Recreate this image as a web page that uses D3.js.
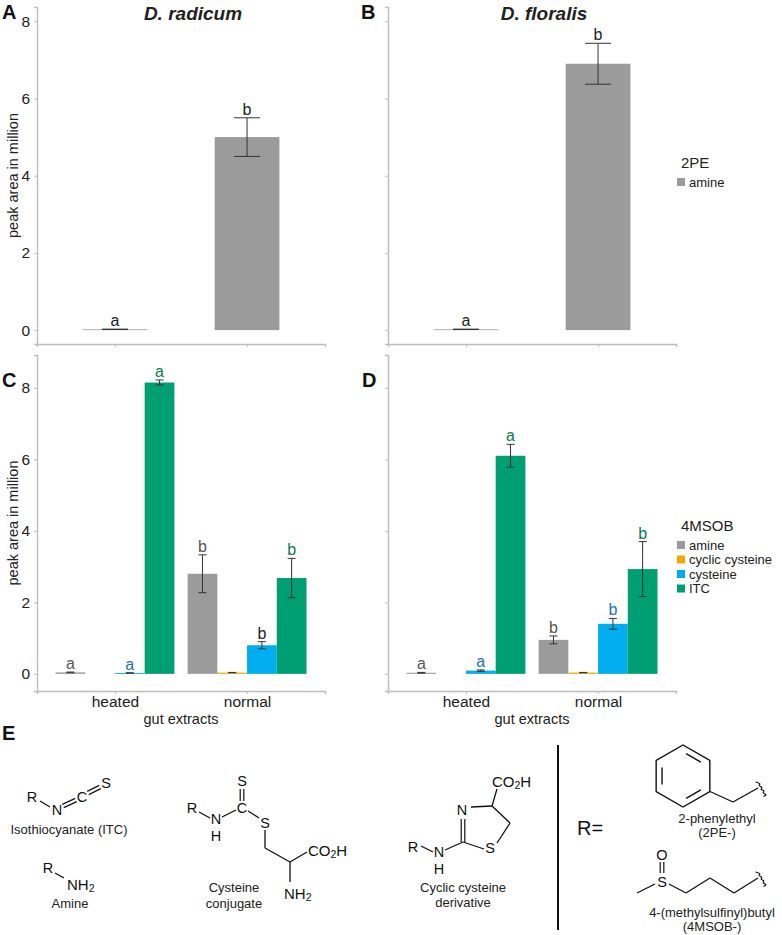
<!DOCTYPE html>
<html>
<head>
<meta charset="utf-8">
<script src="https://cdn.jsdelivr.net/npm/d3@7"></script>
<style>
  body { margin: 0; background: #fff; }
  svg { display: block; font-family: 'Liberation Sans', Arial, sans-serif; }
</style>
</head>
<body>
<svg id="chart" width="782" height="935"></svg>
<script>
// ---- data ----
const extracts = ["heated", "normal"];
const compounds = ["amine", "cyclic cysteine", "cysteine", "ITC"];
const compoundColors = ["#9b9b9b", "#f5a700", "#00aeef", "#009e73"];
const yTicks = [0, 2, 4, 6, 8];

// 2PE (panels A, B): amine only
const radicum2PEMean = [0.02, 5.0];
const radicum2PEErr = [0.005, 0.5];
const floralis2PEMean = [0.02, 6.9];
const floralis2PEErr = [0.005, 0.53];
const pe2Letters = ["a", "b"];

// 4MSOB (panels C, D): [heated, normal]
const radicumAmine = [0.04, 2.8];
const radicumAmineErr = [0.01, 0.53];
const radicumCyclic = [0, 0.035];
const radicumCyclicErr = [0, 0.005];
const radicumCysteine = [0.025, 0.8];
const radicumCysteineErr = [0.005, 0.1];
const radicumITC = [8.15, 2.68];
const radicumITCErr = [0.07, 0.55];

const floralisAmine = [0.03, 0.95];
const floralisAmineErr = [0.01, 0.11];
const floralisCyclic = [0, 0.035];
const floralisCyclicErr = [0, 0.005];
const floralisCysteine = [0.09, 1.4];
const floralisCysteineErr = [0.02, 0.15];
const floralisITC = [6.1, 2.93];
const floralisITCErr = [0.32, 0.77];

const msobLetters = [["a", "b"], [null, null], ["a", "b"], ["a", "b"]];
const radicumLetterColors = [["#555", "#555"], [null, null], ["#1f6fc0", "#222"], ["#0b7a50", "#0b7a50"]];
const floralisLetterColors = [["#555", "#555"], [null, null], ["#1f6fc0", "#1f6fc0"], ["#0b7a50", "#0b7a50"]];

const svg = d3.select("#chart");
const axisColor = "#bdbdbd";

function drawPanel(cfg) {
    const g = svg.append("g");

    const x = d3.scalePoint()
        .domain(extracts)
        .range([cfg.x0, cfg.x1])
        .padding(0.59);

    const y = d3.scaleLinear()
        .domain(cfg.yDomain)
        .range([cfg.yBottom, cfg.yTop]);

    const yAxis = g.append("g")
        .attr("transform", `translate(${cfg.x0},0)`)
        .call(d3.axisLeft(y).tickValues(yTicks).tickSize(3).tickPadding(4)
            .tickFormat(cfg.yLabels ? d3.format("d") : ""));

    const xAxis = g.append("g")
        .attr("transform", `translate(0,${cfg.yBottom})`)
        .call(d3.axisBottom(x).tickSize(3).tickPadding(2)
            .tickFormat(cfg.xLabels ? d => d : ""));

    [yAxis, xAxis].forEach(a => {
        a.select(".domain").attr("stroke", axisColor).attr("stroke-width", 1.4);
        a.selectAll(".tick line").attr("stroke", axisColor);
        a.selectAll(".tick text")
            .attr("fill", "#222")
            .style("font-size", "15.5px")
            .style("font-family", "'Liberation Sans', Arial, sans-serif");
    });

    const n = cfg.series.length;
    const bw = x.step() * cfg.groupFrac / n;
    const whisker = bw * cfg.whiskerFrac;

    cfg.series.forEach((s, i) => {
        extracts.forEach((ex, j) => {
            const cx = x(ex) - bw * n / 2 + bw * i + bw / 2;
            const v = s.mean[j];
            const e = s.err[j];
            if (v > 0) {
                g.append("rect")
                    .attr("x", cx - bw / 2)
                    .attr("width", bw)
                    .attr("y", y(v))
                    .attr("height", y(0) - y(v))
                    .attr("fill", s.color);
            }
            if (e > 0) {
                const top = y(v + e), bot = y(Math.max(v - e, 0));
                g.append("line")
                    .attr("x1", cx).attr("x2", cx)
                    .attr("y1", top).attr("y2", bot)
                    .attr("stroke", "#333").attr("stroke-width", 1);
                [top, bot].forEach(yy => {
                    g.append("line")
                        .attr("x1", cx - whisker / 2).attr("x2", cx + whisker / 2)
                        .attr("y1", yy).attr("y2", yy)
                        .attr("stroke", "#333").attr("stroke-width", 1);
                });
            }
            if (s.letters[j]) {
                g.append("text")
                    .attr("x", cx)
                    .attr("y", y(v + e) - 3)
                    .attr("text-anchor", "middle")
                    .attr("fill", s.letterColors[j])
                    .style("font-size", "16px")
                    .text(s.letters[j]);
            }
        });
    });

    if (cfg.yTitle) {
        g.append("text")
            .attr("transform", `translate(18,${(cfg.yBottom + cfg.yTop) / 2}) rotate(-90)`)
            .attr("text-anchor", "middle")
            .attr("fill", "#222")
            .style("font-size", "14.5px")
            .text("peak area in million");
    }
    if (cfg.xTitle) {
        g.append("text")
            .attr("x", (cfg.x0 + cfg.x1) / 2)
            .attr("y", cfg.yBottom + 33)
            .attr("text-anchor", "middle")
            .attr("fill", "#222")
            .style("font-size", "14.5px")
            .text("gut extracts");
    }
    if (cfg.title) {
        g.append("text")
            .attr("x", (cfg.x0 + cfg.x1) / 2 + 12)
            .attr("y", 20)
            .attr("text-anchor", "middle")
            .attr("fill", "#222")
            .style("font-size", "19px")
            .style("font-weight", "bold")
            .style("font-style", "italic")
            .text(cfg.title);
    }
    g.append("text")
        .attr("x", cfg.tagX)
        .attr("y", cfg.tagY)
        .attr("fill", "#111")
        .style("font-size", "20px")
        .style("font-weight", "bold")
        .text(cfg.tag);
}

const topDomain = [-0.36, 8.37];
const botDomain = [-0.48, 8.92];

drawPanel({
    tag: "A", tagX: 2, tagY: 19, title: "D. radicum",
    x0: 37, x1: 325, yTop: 7, yBottom: 344, yDomain: topDomain,
    yLabels: true, xLabels: false, yTitle: true, xTitle: false,
    groupFrac: 0.49, whiskerFrac: 0.4,
    series: [{ color: compoundColors[0], mean: radicum2PEMean, err: radicum2PEErr,
               letters: pe2Letters, letterColors: ["#222", "#222"] }]
});
drawPanel({
    tag: "B", tagX: 361, tagY: 19, title: "D. floralis",
    x0: 388, x1: 676, yTop: 7, yBottom: 344, yDomain: topDomain,
    yLabels: false, xLabels: false, yTitle: false, xTitle: false,
    groupFrac: 0.49, whiskerFrac: 0.4,
    series: [{ color: compoundColors[0], mean: floralis2PEMean, err: floralis2PEErr,
               letters: pe2Letters, letterColors: ["#222", "#222"] }]
});

const radicumMeans = [radicumAmine, radicumCyclic, radicumCysteine, radicumITC];
const radicumErrs = [radicumAmineErr, radicumCyclicErr, radicumCysteineErr, radicumITCErr];
const floralisMeans = [floralisAmine, floralisCyclic, floralisCysteine, floralisITC];
const floralisErrs = [floralisAmineErr, floralisCyclicErr, floralisCysteineErr, floralisITCErr];

drawPanel({
    tag: "C", tagX: 2, tagY: 387,
    x0: 37, x1: 325, yTop: 355, yBottom: 691, yDomain: botDomain,
    yLabels: true, xLabels: true, yTitle: true, xTitle: true,
    groupFrac: 0.9, whiskerFrac: 0.27,
    series: compounds.map((c, i) => ({ color: compoundColors[i], mean: radicumMeans[i], err: radicumErrs[i],
        letters: msobLetters[i], letterColors: radicumLetterColors[i] }))
});
drawPanel({
    tag: "D", tagX: 362, tagY: 387,
    x0: 388, x1: 676, yTop: 355, yBottom: 691, yDomain: botDomain,
    yLabels: false, xLabels: true, yTitle: false, xTitle: true,
    groupFrac: 0.9, whiskerFrac: 0.27,
    series: compounds.map((c, i) => ({ color: compoundColors[i], mean: floralisMeans[i], err: floralisErrs[i],
        letters: msobLetters[i], letterColors: floralisLetterColors[i] }))
});

// ---- legends ----
function legend(title, items, colors, x, y) {
    const g = svg.append("g").attr("transform", `translate(${x},${y})`);
    g.append("text").attr("x", 4).attr("y", 0).attr("fill", "#222")
        .style("font-size", "15px").text(title);
    items.forEach((it, i) => {
        g.append("rect").attr("x", 0).attr("y", 10 + i * 14.5).attr("width", 8).attr("height", 8)
            .attr("fill", colors[i]);
        g.append("text").attr("x", 12).attr("y", 18.5 + i * 14.5).attr("fill", "#222")
            .style("font-size", "13px").text(it);
    });
}
legend("2PE", ["amine"], [compoundColors[0]], 677, 168);
legend("4MSOB", compounds, compoundColors, 677, 531);

// ---- panel E: structures ----
const e = svg.append("g").attr("stroke", "#111").attr("fill", "#111");
e.append("text").attr("x", 2).attr("y", 740).attr("stroke", "none")
    .style("font-size", "20px").style("font-weight", "bold").text("E");

const singleBonds = [
    [40, 801, 50, 807],
    [55, 873, 64, 878],
    [199, 812, 210, 818], [222, 817, 236, 810], [248, 811, 259, 818],
    [265, 830, 265, 848], [265, 848, 290, 862], [290, 862, 307, 852], [290, 862, 290, 882],
    [421, 846, 433, 852], [445, 850, 463, 842], [471, 807, 492, 806], [492, 806, 497, 789],
    [492, 806, 510, 823], [510, 823, 497, 843], [463, 842, 484, 849],
    [710, 791.5, 733, 802], [733, 802, 758, 788],
    [637, 893, 655, 884], [669, 884, 686, 893], [686, 893, 710, 878], [710, 878, 734, 893], [734, 893, 758, 878]
];
const doubleBonds = [
    [63, 806, 76, 800], [88, 793, 100, 787],
    [242, 801, 242, 789],
    [463, 842, 463, 819],
    [662, 862, 662, 873]
];
singleBonds.forEach(b => {
    e.append("line").attr("x1", b[0]).attr("y1", b[1]).attr("x2", b[2]).attr("y2", b[3])
        .attr("stroke-width", 1.3);
});
doubleBonds.forEach(b => {
    const dx = b[2] - b[0], dy = b[3] - b[1], len = Math.hypot(dx, dy);
    const ox = -dy / len * 1.8, oy = dx / len * 1.8;
    [-1, 1].forEach(s => {
        e.append("line").attr("x1", b[0] + s * ox).attr("y1", b[1] + s * oy)
            .attr("x2", b[2] + s * ox).attr("y2", b[3] + s * oy).attr("stroke-width", 1.2);
    });
});

// benzene ring
const ringC = [683, 776], ringR = 31;
const ring = d3.range(6).map(k => {
    const a = (-90 + 60 * k) * Math.PI / 180;
    return [ringC[0] + ringR * Math.cos(a), ringC[1] + ringR * Math.sin(a)];
});
e.append("path").attr("d", "M" + ring.join("L") + "Z").attr("fill", "none").attr("stroke-width", 1.4);
[0, 2, 4].forEach(k => {
    const p = ring[k], q = ring[(k + 1) % 6];
    const s = 0.78, t = 0.15;
    const pi = [ringC[0] + (p[0] - ringC[0]) * s, ringC[1] + (p[1] - ringC[1]) * s];
    const qi = [ringC[0] + (q[0] - ringC[0]) * s, ringC[1] + (q[1] - ringC[1]) * s];
    e.append("line")
        .attr("x1", pi[0] + (qi[0] - pi[0]) * t).attr("y1", pi[1] + (qi[1] - pi[1]) * t)
        .attr("x2", qi[0] - (qi[0] - pi[0]) * t).attr("y2", qi[1] - (qi[1] - pi[1]) * t)
        .attr("stroke-width", 1.4);
});

// wavy attachment marks
function wavy(x, y) {
    const pts = d3.range(0, 9).map(k => [x + k * 1.0 + (k % 2 ? 2.5 : -2.5), y - 7 + k * 1.8]);
    e.append("path").attr("d", d3.line().curve(d3.curveBasis)(pts))
        .attr("fill", "none").attr("stroke-width", 1.1);
}
wavy(758, 789);
wavy(758, 879);

// atom labels
const atoms = [
    ["R", 32, 797], ["N", 57, 810], ["C", 82, 797], ["S", 106, 783],
    ["R", 48, 868],
    ["R", 192, 808], ["N", 216, 819], ["H", 216, 836], ["C", 242, 808], ["S", 242, 781], ["S", 265, 823],
    ["R", 413, 847], ["N", 439, 852], ["H", 439, 869], ["N", 462, 810], ["S", 490, 848],
    ["O", 662, 855], ["S", 662, 882]
];
atoms.forEach(a => {
    e.append("text").attr("x", a[1]).attr("y", a[2]).attr("stroke", "none")
        .attr("text-anchor", "middle").attr("dominant-baseline", "central")
        .style("font-size", "14.5px").text(a[0]);
});
// groups with subscripts
function sub(main, s, tail, x, y) {
    const t = e.append("text").attr("x", x).attr("y", y).attr("stroke", "none")
        .attr("dominant-baseline", "central").style("font-size", "15px");
    t.append("tspan").text(main);
    t.append("tspan").attr("dy", 4).style("font-size", "10.5px").text(s);
    if (tail) t.append("tspan").attr("dy", -4).text(tail);
}
sub("NH", "2", null, 67, 884);
sub("CO", "2", "H", 308, 850);
sub("NH", "2", null, 284, 893);
sub("CO", "2", "H", 492, 781);

const captions = [
    ["Isothiocyanate (ITC)", 69, 829], ["Amine", 70, 903],
    ["Cysteine", 234, 887], ["conjugate", 234, 903],
    ["Cyclic cysteine", 463, 887], ["derivative", 463, 902],
    ["2-phenylethyl", 717, 818], ["(2PE-)", 717, 832],
    ["4-(methylsulfinyl)butyl", 712, 912], ["(4MSOB-)", 712, 926]
];
captions.forEach(c => {
    e.append("text").attr("x", c[1]).attr("y", c[2]).attr("stroke", "none")
        .attr("text-anchor", "middle").attr("dominant-baseline", "central")
        .style("font-size", "13px").attr("fill", "#222").text(c[0]);
});

e.append("line").attr("x1", 558).attr("x2", 558).attr("y1", 745).attr("y2", 930).attr("stroke-width", 2);
e.append("text").attr("x", 577).attr("y", 828).attr("stroke", "none")
    .attr("dominant-baseline", "central").style("font-size", "20px").text("R=");
</script>
</body>
</html>
